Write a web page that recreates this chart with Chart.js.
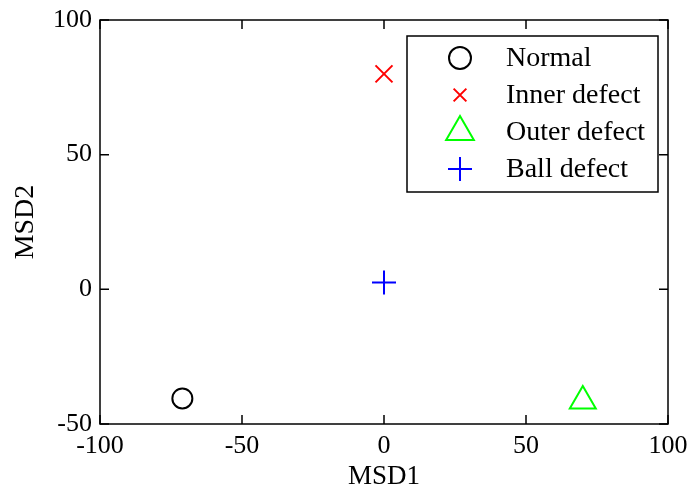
<!DOCTYPE html>
<html>
<head>
<meta charset="utf-8">
<script src="https://cdn.jsdelivr.net/npm/chart.js"></script>
<style>
  body { margin: 0; background: #fff; }
  #wrap { width: 690px; height: 490px; }
</style>
</head>
<body>
<div id="wrap"><canvas id="msdChart" width="690" height="490"></canvas></div>
<script>
// class names and their MSD coordinates
const classNames = ['Normal', 'Inner defect', 'Outer defect', 'Ball defect'];
const msd1 = [-71, 0, 70, 0];
const msd2 = [-40.5, 80, -41.5, 2.5];
const classColors = ['#000000', '#ff0000', '#00ff00', '#0000ff'];
const classMarkers = ['circle', 'crossRot', 'triangle', 'cross'];
const markerSizes = [10, 12, 15, 12];
const legendSizes = [11, 9, 16, 12];

const xTicks = [-100, -50, 0, 50, 100];
const yTicks = [-50, 0, 50, 100];

const serif = "'Liberation Serif', 'Times New Roman', serif";

// box round the plot with inward ticks, MATLAB style
const boxPlugin = {
    id: 'box',
    afterDraw(chart) {
        const ctx = chart.ctx;
        const a = chart.chartArea;
        const xs = chart.scales.x, ys = chart.scales.y;
        const len = 9;
        ctx.save();
        ctx.strokeStyle = '#000';
        ctx.lineWidth = 1.5;
        ctx.strokeRect(a.left, a.top, a.right - a.left, a.bottom - a.top);
        ctx.beginPath();
        xTicks.forEach(v => {
            const px = xs.getPixelForValue(v);
            ctx.moveTo(px, a.bottom); ctx.lineTo(px, a.bottom - len);
            ctx.moveTo(px, a.top); ctx.lineTo(px, a.top + len);
        });
        yTicks.forEach(v => {
            const py = ys.getPixelForValue(v);
            ctx.moveTo(a.left, py); ctx.lineTo(a.left + len, py);
            ctx.moveTo(a.right, py); ctx.lineTo(a.right - len, py);
        });
        ctx.stroke();

        // legend box, top right inside the axes
        const lx = a.left + 307, ly = a.top + 16, lw = 251, lh = 156;
        ctx.fillStyle = '#fff';
        ctx.fillRect(lx, ly, lw, lh);
        ctx.lineWidth = 1.5;
        ctx.strokeRect(lx, ly, lw, lh);
        ctx.font = '28px ' + serif;
        ctx.textBaseline = 'middle';
        ctx.textAlign = 'left';
        chart.data.datasets.forEach((ds, i) => {
            const cy = ly + 22 + i * 37;
            const cx = lx + 53;
            ctx.strokeStyle = ds.borderColor;
            ctx.fillStyle = 'rgba(0,0,0,0)';
            ctx.lineWidth = 2;
            Chart.helpers.drawPoint(ctx, {
                pointStyle: ds.pointStyle,
                radius: legendSizes[i],
                rotation: 0,
                borderWidth: 2
            }, cx, cy);
            ctx.fillStyle = '#000';
            ctx.fillText(ds.label, lx + 99, cy + 1);
        });
        ctx.restore();
    }
};

const datasets = classNames.map((name, i) => ({
    label: name,
    data: [{ x: msd1[i], y: msd2[i] }],
    pointStyle: classMarkers[i],
    pointRadius: markerSizes[i],
    pointBorderWidth: 2,
    borderColor: classColors[i],
    backgroundColor: 'rgba(0,0,0,0)',
    showLine: false
}));

new Chart(document.getElementById('msdChart'), {
    type: 'scatter',
    data: { datasets: datasets },
    options: {
        responsive: false,
        animation: false,
        layout: { padding: { left: 0, right: 22, top: 20, bottom: 0 } },
        plugins: {
            legend: { display: false },
            tooltip: { enabled: false }
        },
        scales: {
            x: {
                type: 'linear',
                min: -100, max: 100,
                afterBuildTicks: s => { s.ticks = xTicks.map(v => ({ value: v })); },
                afterFit: s => { s.height = 66; s.paddingLeft = 0; s.paddingRight = 0; },
                grid: { display: false, drawTicks: false },
                border: { display: false },
                ticks: { color: '#000', padding: 7, font: { family: serif, size: 26 } },
                title: {
                    display: true, text: 'MSD1', color: '#000',
                    font: { family: serif, size: 27, lineHeight: 1 },
                    padding: { top: 0, bottom: 0 }
                }
            },
            y: {
                type: 'linear',
                min: -50, max: 100,
                afterBuildTicks: s => { s.ticks = yTicks.map(v => ({ value: v })); },
                afterFit: s => { s.width = 100; s.paddingTop = 0; s.paddingBottom = 0; },
                grid: { display: false, drawTicks: false },
                border: { display: false },
                ticks: { color: '#000', padding: 8, font: { family: serif, size: 26 } },
                title: {
                    display: true, text: 'MSD2', color: '#000',
                    font: { family: serif, size: 28 },
                    padding: { top: 9, bottom: 0 }
                }
            }
        }
    },
    plugins: [boxPlugin]
});
</script>
</body>
</html>
